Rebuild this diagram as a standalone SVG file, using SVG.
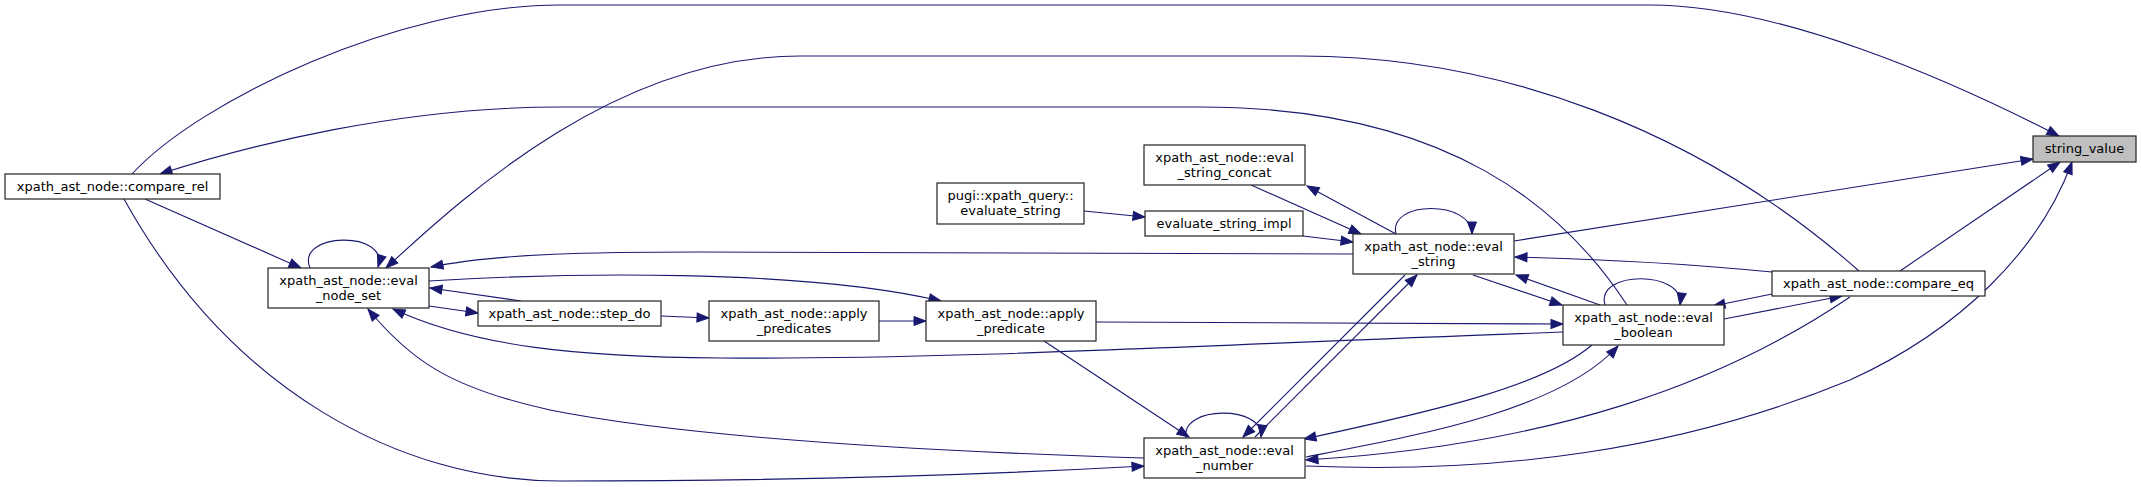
<svg xmlns="http://www.w3.org/2000/svg" width="2141" height="487" viewBox="0 0 2141 487">
<style>
.n rect{fill:#fff;stroke:#222;stroke-width:1.2}
.n text{font-family:"DejaVu Sans","Liberation Sans",sans-serif;font-size:13px;fill:#000;text-anchor:middle}
#root rect{fill:#bfbfbf}
.e path{fill:none;stroke:#191970;stroke-width:1.1;marker-end:url(#ah)}
</style>
<defs>
<marker id="ah" markerUnits="userSpaceOnUse" markerWidth="13" markerHeight="11" refX="12" refY="5" orient="auto" overflow="visible">
<path d="M0,0.5 L12,5 L0,9.5 z" fill="#191970" stroke="#191970" stroke-width="1"/>
</marker>
</defs>
<rect width="2141" height="487" fill="#fff"/>
<g class="e" id="edges">
<path d="M132,174 C200,100 400,5 560,5 L1650,5 C1780,5 1950,80 2059,136"/>
<path d="M1859,271 C1700,130 1500,56 1300,56 L800,56 C620,56 470,190 386,268"/>
<path d="M1627,305 C1565,210 1450,107 1200,107 L560,107 C400,107 250,145 160,174"/>
<path d="M1514,241 L2033,159"/>
<path d="M1900,271 L2060,162"/>
<path d="M1306,466 C1500,474 1680,450 1850,380 C1960,330 2040,250 2072,162"/>
<path d="M1592,345 C1545,385 1440,410 1304,439"/>
<path d="M1306,457 C1420,435 1560,410 1618,346"/>
<path d="M1850,297 C1720,385 1550,445 1306,460"/>
<path d="M1396,234 L1307,186"/>
<path d="M1251,185 L1361,234"/>
<path d="M1084,211 L1145,217"/>
<path d="M1303,236 L1353,242"/>
<path d="M1396,234 C1388,200 1472,200 1472,234"/>
<path d="M1353,254 L700,252 C600,252 500,253 431,267"/>
<path d="M429,281 C560,273 800,268 941,301"/>
<path d="M521,301 L430,288"/>
<path d="M429,306 L478,313"/>
<path d="M661,316 L709,318"/>
<path d="M879,321 L926,321"/>
<path d="M310,268 C295,232 390,230 378,267"/>
<path d="M145,199 L301,268"/>
<path d="M1563,332 C1200,345 950,360 720,358 C580,357 475,347 393,309"/>
<path d="M1144,458 C950,452 700,440 550,410 C450,388 410,360 368,309"/>
<path d="M124,199 C230,390 400,481 560,481 C800,481 1000,474 1144,466"/>
<path d="M1044,341 L1189,437"/>
<path d="M1186,438 C1180,405 1265,405 1261,437"/>
<path d="M1405,275 L1243,437"/>
<path d="M1255,437 L1417,275"/>
<path d="M1473,275 L1562,305"/>
<path d="M1600,305 L1516,275"/>
<path d="M1772,272 C1700,265 1600,259 1515,257"/>
<path d="M1605,305 C1595,270 1685,270 1680,305"/>
<path d="M1772,294 L1713,306"/>
<path d="M1724,319 C1770,310 1810,302 1842,296"/>
<path d="M1096,322 L1563,324"/>
</g>
<g class="n" id="root"><rect x="2033" y="136" width="103" height="26"/><text x="2084.5" y="153">string_value</text></g>
<g class="n" id="compare_rel"><rect x="5" y="174" width="215" height="25"/><text x="112.5" y="191">xpath_ast_node::compare_rel</text></g>
<g class="n" id="eval_node_set"><rect x="268" y="268" width="161" height="40"/><text x="348.5" y="285">xpath_ast_node::eval</text><text x="348.5" y="300">_node_set</text></g>
<g class="n" id="step_do"><rect x="478" y="301" width="183" height="25"/><text x="569.5" y="318">xpath_ast_node::step_do</text></g>
<g class="n" id="apply_predicates"><rect x="709" y="301" width="170" height="40"/><text x="794" y="318">xpath_ast_node::apply</text><text x="794" y="333">_predicates</text></g>
<g class="n" id="apply_predicate"><rect x="926" y="301" width="170" height="40"/><text x="1011" y="318">xpath_ast_node::apply</text><text x="1011" y="333">_predicate</text></g>
<g class="n" id="evaluate_string"><rect x="937" y="183" width="147" height="41"/><text x="1010.5" y="200">pugi::xpath_query::</text><text x="1010.5" y="215">evaluate_string</text></g>
<g class="n" id="eval_string_concat"><rect x="1144" y="145" width="161" height="40"/><text x="1224.5" y="162">xpath_ast_node::eval</text><text x="1224.5" y="177">_string_concat</text></g>
<g class="n" id="evaluate_string_impl"><rect x="1145" y="211" width="158" height="25"/><text x="1224" y="228">evaluate_string_impl</text></g>
<g class="n" id="eval_string"><rect x="1353" y="234" width="161" height="40"/><text x="1433.5" y="251">xpath_ast_node::eval</text><text x="1433.5" y="266">_string</text></g>
<g class="n" id="eval_boolean"><rect x="1563" y="305" width="161" height="40"/><text x="1643.5" y="322">xpath_ast_node::eval</text><text x="1643.5" y="337">_boolean</text></g>
<g class="n" id="compare_eq"><rect x="1772" y="271" width="213" height="25"/><text x="1878.5" y="288">xpath_ast_node::compare_eq</text></g>
<g class="n" id="eval_number"><rect x="1144" y="438" width="161" height="40"/><text x="1224.5" y="455">xpath_ast_node::eval</text><text x="1224.5" y="470">_number</text></g>
</svg>
